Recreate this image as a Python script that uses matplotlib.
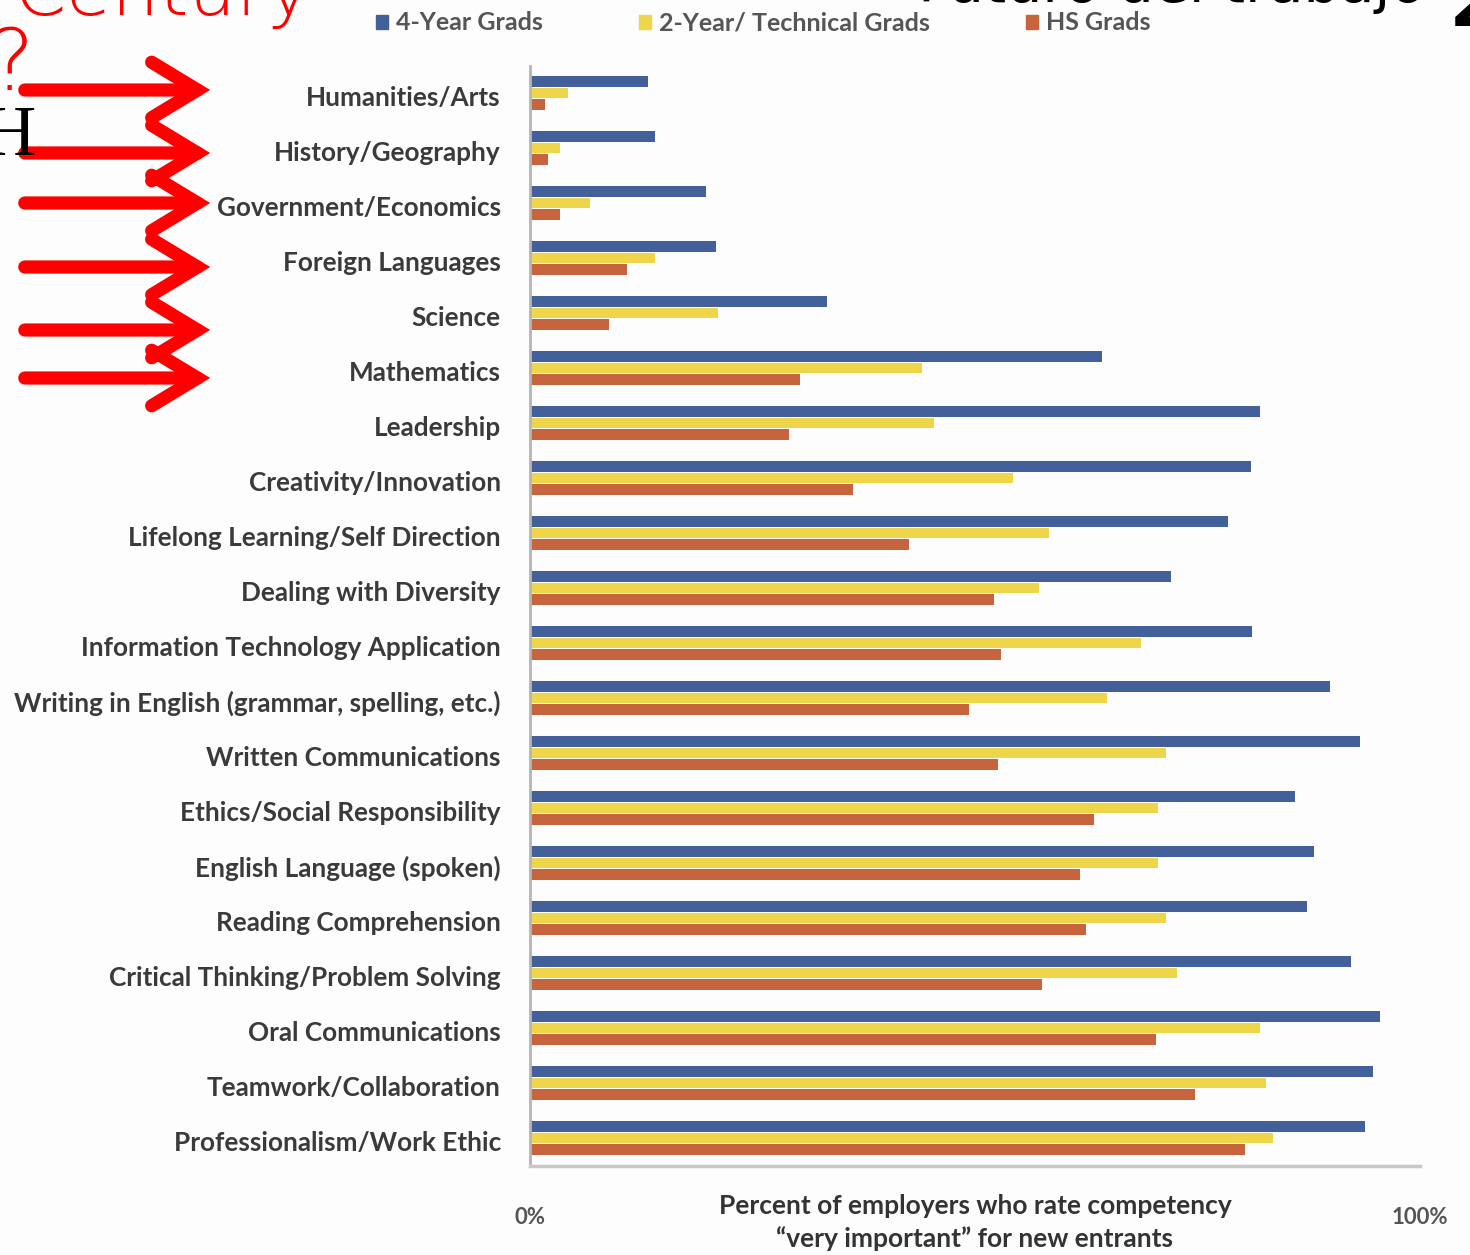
import matplotlib
matplotlib.use("Agg")
import matplotlib.pyplot as plt
import numpy as np
from matplotlib.patches import FancyArrowPatch, Patch

categories = [
    "Humanities/Arts",
    "History/Geography",
    "Government/Economics",
    "Foreign Languages",
    "Science",
    "Mathematics",
    "Leadership",
    "Creativity/Innovation",
    "Lifelong Learning/Self Direction",
    "Dealing with Diversity",
    "Information Technology Application",
    "Writing in English (grammar, spelling, etc.)",
    "Written Communications",
    "Ethics/Social Responsibility",
    "English Language (spoken)",
    "Reading Comprehension",
    "Critical Thinking/Problem Solving",
    "Oral Communications",
    "Teamwork/Collaboration",
    "Professionalism/Work Ethic",
]
four_year = [13.3, 14.0, 19.8, 20.9, 33.4, 64.3, 82.0, 81.0, 78.4, 72.0,
             81.1, 89.9, 93.3, 86.0, 88.1, 87.3, 92.2, 95.5, 94.7, 93.8]
two_year = [4.3, 3.4, 6.7, 14.0, 21.1, 44.0, 45.4, 54.3, 58.3, 57.2,
            68.7, 64.8, 71.5, 70.6, 70.6, 71.5, 72.7, 82.0, 82.7, 83.5]
hs_grads = [1.7, 2.0, 3.4, 10.9, 8.9, 30.3, 29.1, 36.3, 42.6, 52.1,
            52.9, 49.3, 52.6, 63.4, 61.8, 62.5, 57.5, 70.3, 74.7, 80.3]
series_names = ["4-Year Grads", "2-Year/ Technical Grads", "HS Grads"]
x_tick_labels = ["0%", "100%"]
x_label = "Percent of employers who rate competency\n\u201cvery important\u201d for new entrants"

colors = ["#44609A", "#EFD54A", "#C6643D"]
W, H = 1470, 1255
bg = "#fdfdfd"

fig = plt.figure(figsize=(W / 100, H / 100), dpi=100, facecolor=bg)
ax = fig.add_axes([530 / W, 1 - 1165.5 / H, 890 / W, 1100 / H])
ax.set_facecolor(bg)

y = np.arange(len(categories))
off = 0.21
hgt = 0.19
ax.barh(y - off, four_year, height=hgt, color=colors[0], label=series_names[0])
ax.barh(y, two_year, height=hgt, color=colors[1], label=series_names[1])
ax.barh(y + off, hs_grads, height=hgt, color=colors[2], label=series_names[2])

ax.set_ylim(len(categories) - 0.5, -0.5)
ax.set_xlim(0, 100)
ax.set_yticks(y + 0.05)
ax.set_yticklabels(categories, fontsize=18.8, color="#3a3a3a", family="Lato",
                   fontweight="bold")
ax.tick_params(axis="y", length=0, pad=21)
ax.set_xticks([0, 100])
ax.set_xticklabels(x_tick_labels, fontsize=16, color="#555555", family="Lato",
                   fontweight="bold")
ax.tick_params(axis="x", length=0, pad=30)

ax.set_xlabel(x_label, fontsize=19, color="#333333", family="Lato", fontweight="bold",
              linespacing=1.4)
ax.xaxis.label.set_va("center")
ax.xaxis.set_label_coords(0.5, -0.052)

for s in ["top", "right"]:
    ax.spines[s].set_visible(False)
ax.spines["left"].set_color("#b5b5b5")
ax.spines["left"].set_linewidth(2)
ax.spines["bottom"].set_color("#c8c8c8")
ax.spines["bottom"].set_linewidth(2.5)

handles = [Patch(color=c) for c in colors]
fig.legend(handles, series_names, ncol=3, loc="center",
           bbox_to_anchor=(763 / W, 1 - 23 / H), frameon=False,
           prop={"family": "Lato", "size": 18, "weight": "bold"},
           labelcolor="#555555", handlelength=0.5, handleheight=0.5,
           handletextpad=0.3, columnspacing=3.85)

# slide decorations around the chart
for yy in [90, 153, 203, 267, 330, 378]:
    arr = FancyArrowPatch((22 / W, 1 - yy / H), (213 / W, 1 - yy / H),
                          transform=fig.transFigure,
                          arrowstyle="->,head_length=3.3,head_width=2.0",
                          mutation_scale=10, lw=9.5, color="#ff0000",
                          capstyle="round", joinstyle="miter")
    fig.patches.append(arr)

fig.text(312 / W, 1 - 15 / H, "Century", color="#ff0000", fontsize=54,
         family="DejaVu Sans", fontweight="light", ha="right", va="baseline")
fig.text(34 / W, 1 - 90 / H, "?", color="#ff0000", fontsize=62,
         family="DejaVu Sans", fontweight="light", ha="right", va="baseline")
fig.text(36 / W, 1 - 155 / H, "H", color="#000000", fontsize=52,
         family="Liberation Serif", ha="right", va="baseline")
fig.text(1425 / W, 1 - 2 / H, "Futuro del trabajo", color="#000000", fontsize=41,
         family="DejaVu Sans", ha="right", va="baseline")
fig.text(1450 / W, 1 - 26 / H, "2", color="#000000", fontsize=48,
         family="DejaVu Sans", fontweight="bold", ha="left", va="baseline")

fig.savefig("out.png", dpi=100, facecolor=bg)
